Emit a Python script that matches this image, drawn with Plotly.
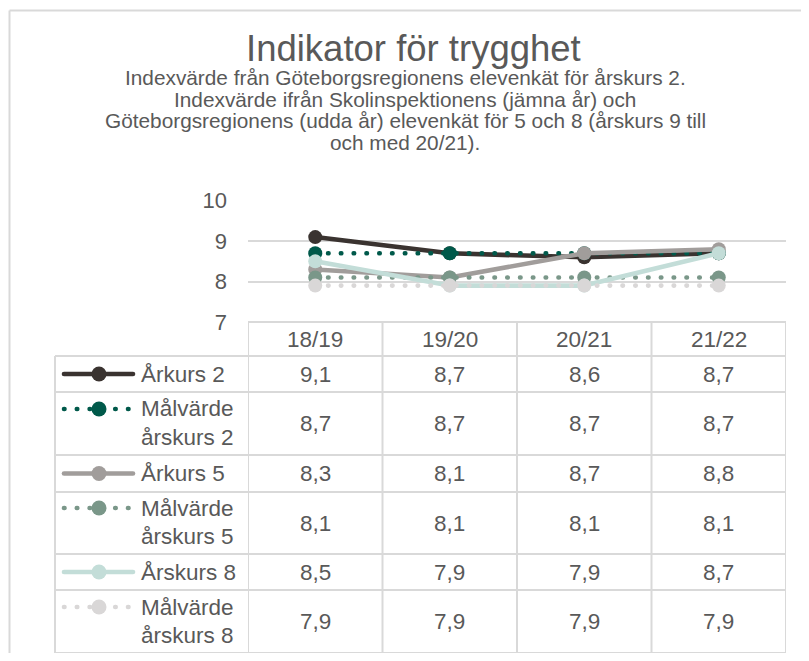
import plotly.graph_objects as go

# ---------------- data ----------------
categories = ["18/19", "19/20", "20/21", "21/22"]
series_names = ["Årkurs 2", "Målvärde|årskurs 2", "Årkurs 5",
                "Målvärde|årskurs 5", "Årskurs 8", "Målvärde|årskurs 8"]
arkurs2 = [9.1, 8.7, 8.6, 8.7]
malvarde2 = [8.7, 8.7, 8.7, 8.7]
arkurs5 = [8.3, 8.1, 8.7, 8.8]
malvarde5 = [8.1, 8.1, 8.1, 8.1]
arskurs8 = [8.5, 7.9, 7.9, 8.7]
malvarde8 = [7.9, 7.9, 7.9, 7.9]
y_ticks = [7, 8, 9, 10]

title_text = "Indikator för trygghet"
subtitle_lines = [
    "Indexvärde från Göteborgsregionens elevenkät för årskurs 2.",
    "Indexvärde ifrån Skolinspektionens (jämna år) och",
    "Göteborgsregionens (udda år) elevenkät för 5 och 8 (årskurs 9 till",
    "och med 20/21).",
]

# ---------------- style ----------------
# page body keeps its default 8px margin, so the figure is 16px smaller
OFF = 8
W, H = 809 - 2 * OFF, 661 - 2 * OFF
FONT = "Liberation Sans, Arial, sans-serif"
TXT = "#595959"
GRID = "#d9d9d9"
colors = ["#3a3330", "#00594a", "#a19d9b", "#7a9789", "#c3ddd8", "#d9d7d7"]
dotted = [False, True, False, True, False, True]
values = [arkurs2, malvarde2, arkurs5, malvarde5, arskurs8, malvarde8]


def px(x):
    return (x - OFF) / W


def py(y):
    return 1 - (y - OFF) / H


plot_left, plot_right = 248, 786
plot_top, plot_bottom = 200.7, 322

fig = go.Figure()

DOT = "0.5px,12.3px"
LW = 4.6
MS = 14
for name, vals, col, dot in zip(series_names, values, colors, dotted):
    fig.add_trace(go.Scatter(
        x=categories, y=vals, mode="lines+markers", name=name.replace("|", " "),
        line=dict(color=col, width=LW, dash=DOT if dot else "solid"),
        marker=dict(color=col, size=MS, opacity=1, line=dict(width=0)),
        xaxis="x", yaxis="y", showlegend=False, hoverinfo="skip",
    ))

# ---------------- table geometry ----------------
table_left = 55
header_top, header_bottom = 322, 356
row_bounds = [356, 392, 455, 492, 554, 590, 653]
first_line_y = [374, 409, 473.5, 508, 572, 607]
second_line_y = [None, 437, None, 536, None, 635]

# legend keys drawn in a pixel-space overlay subplot
for i, (col, dot) in enumerate(zip(colors, dotted)):
    yk = first_line_y[i]
    fig.add_trace(go.Scatter(
        x=[64, 133], y=[yk, yk], mode="lines",
        line=dict(color=col, width=LW, dash=DOT if dot else "solid"),
        xaxis="x2", yaxis="y2", showlegend=False, hoverinfo="skip",
    ))
    fig.add_trace(go.Scatter(
        x=[99], y=[yk], mode="markers",
        marker=dict(color=col, size=MS + 1, opacity=1, line=dict(width=0)),
        xaxis="x2", yaxis="y2", showlegend=False, hoverinfo="skip",
    ))

shapes = []
line_style = dict(color=GRID, width=2)
# outer chart border (left and top edges visible)
shapes.append(dict(type="line", xref="paper", yref="paper",
                   x0=px(9.5), x1=px(830), y0=py(10.5), y1=py(10.5),
                   line=dict(color=GRID, width=2)))
shapes.append(dict(type="line", xref="paper", yref="paper",
                   x0=px(9.5), x1=px(9.5), y0=py(10.5), y1=py(690),
                   line=dict(color=GRID, width=2)))
# horizontal table lines
shapes.append(dict(type="line", xref="x", yref="paper", x0=-0.5, x1=3.5,
                   y0=py(header_top), y1=py(header_top), line=line_style))
for yb in row_bounds:
    shapes.append(dict(type="line", xref="paper", yref="paper",
                       x0=px(table_left), x1=px(plot_right),
                       y0=py(yb), y1=py(yb), line=line_style))
# vertical table lines
shapes.append(dict(type="line", xref="paper", yref="paper",
                   x0=px(table_left), x1=px(table_left),
                   y0=py(row_bounds[0]), y1=py(row_bounds[-1]), line=line_style))
for xb in [-0.5, 0.5, 1.5, 2.5, 3.5]:
    shapes.append(dict(type="line", xref="x", yref="paper", x0=xb, x1=xb,
                       y0=py(header_top), y1=py(row_bounds[-1]), line=line_style))

annotations = []
# title
annotations.append(dict(text=title_text, x=px(413), y=py(48), xref="paper", yref="paper",
                        showarrow=False, xanchor="center", yanchor="middle",
                        font=dict(family=FONT, size=36.5, color=TXT)))
sub_y = [78, 99.5, 121, 142.5]
for line, yy in zip(subtitle_lines, sub_y):
    annotations.append(dict(text=line, x=px(405), y=py(yy), xref="paper", yref="paper",
                            showarrow=False, xanchor="center", yanchor="middle",
                            font=dict(family=FONT, size=20.8, color=TXT)))
CELL = 22.5
# header cells
for c in categories:
    annotations.append(dict(text=c, x=c, y=py((header_top + header_bottom) / 2),
                            xref="x", yref="paper", showarrow=False,
                            xanchor="center", yanchor="middle",
                            font=dict(family=FONT, size=CELL, color=TXT)))
# value cells + legend labels
for i, (name, vals) in enumerate(zip(series_names, values)):
    yc = (row_bounds[i] + row_bounds[i + 1]) / 2
    for c, v in zip(categories, vals):
        annotations.append(dict(text=f"{v:.1f}".replace(".", ","), x=c, y=py(yc),
                                xref="x", yref="paper", showarrow=False,
                                xanchor="center", yanchor="middle",
                                font=dict(family=FONT, size=CELL, color=TXT)))
    parts = name.split("|")
    ys = [first_line_y[i]] if len(parts) == 1 else [first_line_y[i], second_line_y[i]]
    for part, yy in zip(parts, ys):
        annotations.append(dict(text=part, x=px(139), y=py(yy), xref="paper", yref="paper",
                                showarrow=False, xanchor="left", yanchor="middle",
                                font=dict(family=FONT, size=CELL, color=TXT)))

fig.update_layout(
    template="none",
    font=dict(family=FONT, color=TXT),
    width=W, height=H, margin=dict(l=0, r=0, t=0, b=0, pad=0, autoexpand=False),
    paper_bgcolor="white", plot_bgcolor="rgba(0,0,0,0)",
    showlegend=False, hovermode=False,
    xaxis=dict(domain=[px(plot_left), px(plot_right)], type="category",
               categoryorder="array", categoryarray=categories,
               range=[-0.5, 3.5], showgrid=False, zeroline=False, automargin=False,
               showticklabels=False, showline=False, ticks="", fixedrange=True),
    yaxis=dict(domain=[py(plot_bottom), py(plot_top)], range=[7, 10],
               tickvals=y_ticks, ticktext=[str(t) for t in y_ticks],
               showgrid=True, gridcolor=GRID, gridwidth=2, zeroline=False,
               showline=False, ticks="", ticklabelstandoff=20, automargin=False,
               tickfont=dict(family=FONT, size=22, color=TXT), fixedrange=True),
    xaxis2=dict(domain=[0, 1], range=[OFF, OFF + W], visible=False, automargin=False,
                fixedrange=True, anchor="y2"),
    yaxis2=dict(domain=[0, 1], range=[OFF + H, OFF], visible=False, automargin=False,
                fixedrange=True, anchor="x2"),
    shapes=shapes, annotations=annotations,
)

post = """
var gd = document.getElementById('{plot_id}');
gd.querySelectorAll('.scatterlayer .js-line').forEach(function(p){
  p.style.strokeLinecap='round'; p.style.strokeLinejoin='round';
});
"""
fig.write_html("out.html", post_script=post, config={"displayModeBar": False})
